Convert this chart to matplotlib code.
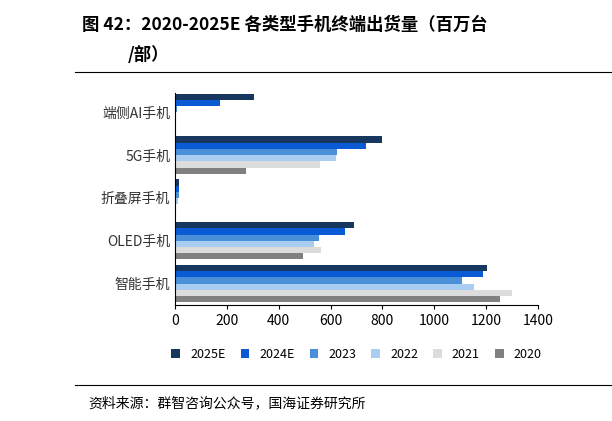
import matplotlib
matplotlib.use("Agg")
import matplotlib.pyplot as plt
import numpy as np

plt.rcParams['font.family'] = ['Noto Sans CJK SC', 'DejaVu Sans']

categories = ["智能手机", "OLED手机", "折叠屏手机", "5G手机", "端侧AI手机"]
series = ["2025E", "2024E", "2023", "2022", "2021", "2020"]
values = {
    "2025E": [1205, 691, 15, 800, 304],
    "2024E": [1186, 656, 15, 737, 174],
    "2023":  [1108, 556, 15, 623, 9],
    "2022":  [1153, 535, 12, 621, 0],
    "2021":  [1299, 565, 4, 560, 0],
    "2020":  [1253, 495, 2, 273, 0],
}
colors = ["#17375e", "#0a5ad6", "#4a90d9", "#a9cdf0", "#dcdcdc", "#808080"]

fig = plt.figure(figsize=(6.12, 4.21), dpi=100)
ax = fig.add_axes([175/612, 1-305/421, (538-175)/612, (305-93)/421])
h = 0.145
y = np.arange(len(categories))
for i, s in enumerate(series):
    ax.barh(y + (2.5 - i) * h, values[s], height=h, color=colors[i], label=s)
ax.set_xlim(0, 1400)
ax.set_ylim(-0.5, 4.45)
ax.set_xticks(range(0, 1401, 200))
ax.set_yticks(y)
ax.set_yticklabels(categories, fontsize=10, color="#333333")
ax.tick_params(axis='x', labelsize=10, length=3)
ax.tick_params(axis='y', length=0)
for sp in ["top", "right"]:
    ax.spines[sp].set_visible(False)
ax.legend(loc="upper center", bbox_to_anchor=(0.5, -0.15), ncol=6, frameon=False,
          fontsize=9, handlelength=0.7, handleheight=0.7, columnspacing=1.2)

fig.text(82/612, 1-25/421, "图 42：2020-2025E 各类型手机终端出货量（百万台", fontsize=12.5,
         fontweight="bold", va="center")
fig.text(128/612, 1-55/421, "/部）", fontsize=12.5, fontweight="bold", va="center")
fig.add_artist(plt.Line2D([75/612, 1], [1-72/421]*2, color="black", lw=0.8))
fig.add_artist(plt.Line2D([75/612, 1], [1-385/421]*2, color="black", lw=0.8))
fig.text(88/612, 1-403/421, "资料来源：群智咨询公众号，国海证券研究所", fontsize=10, va="center")
fig.savefig("out.png", dpi=100)
